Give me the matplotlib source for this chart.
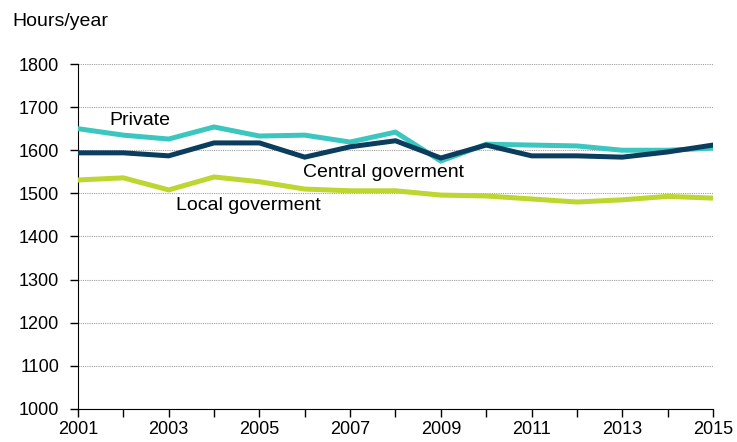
import matplotlib.pyplot as plt

plt.rcParams['font.family'] = ['Liberation Sans', 'DejaVu Sans']

years = list(range(2001, 2016))
private = [1650, 1635, 1626, 1654, 1633, 1635, 1619, 1642, 1575, 1614, 1612, 1610, 1600, 1600, 1605]
central = [1594, 1594, 1587, 1617, 1617, 1584, 1608, 1622, 1582, 1612, 1587, 1587, 1584, 1596, 1612]
local = [1531, 1536, 1508, 1538, 1527, 1510, 1506, 1506, 1496, 1494, 1487, 1480, 1485, 1493, 1489]

fig = plt.figure(figsize=(7.37, 4.42), dpi=100)
ax = fig.add_axes([0.1058, 0.0747, 0.8616, 0.7805])

ax.plot(years, private, color='#3cc6c0', lw=3.6, solid_joinstyle='miter', zorder=3)
ax.plot(years, local, color='#bdd630', lw=3.6, solid_joinstyle='miter', zorder=3)
ax.plot(years, central, color='#0a3d5e', lw=3.6, solid_joinstyle='miter', zorder=4)

ax.text(2001.7, 1668, 'Private', fontsize=14, va='center', ha='left')
ax.text(2005.97, 1549, 'Central goverment', fontsize=14, va='center', ha='left')
ax.text(2003.17, 1473, 'Local goverment', fontsize=14, va='center', ha='left')

ax.set_xlim(2001, 2015)
ax.set_ylim(1000, 1800)
ax.set_xticks(years)
ax.set_xticklabels([str(y) if (y - 2001) % 2 == 0 else '' for y in years])
ax.set_yticks(range(1000, 1801, 100))
ax.tick_params(labelsize=13, length=5.5, width=1, color='black', direction='out')
ax.tick_params(axis='y', pad=8)
ax.tick_params(axis='x', pad=3)
ax.grid(axis='y', color='#a0a0a0', lw=0.8, ls=(0, (1, 1)))
ax.set_axisbelow(True)
for s in ['top', 'right']:
    ax.spines[s].set_visible(False)
ax.spines['left'].set_color('black')
ax.spines['bottom'].set_color('black')

fig.text(12 / 737, 1 - 22 / 442, 'Hours/year', fontsize=14, va='center', ha='left')

fig.savefig('out.png', dpi=100)
